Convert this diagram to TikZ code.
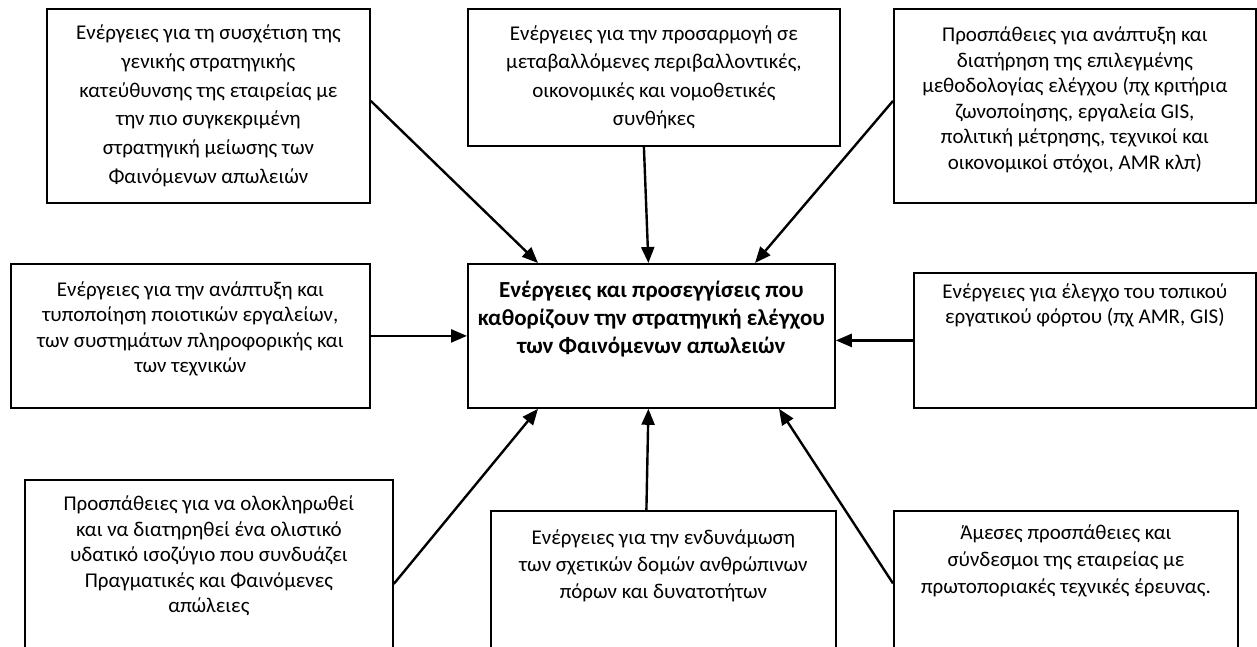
\documentclass[tikz,border=0pt]{standalone}
\usepackage{fontspec}
\setmainfont{Carlito}
\usetikzlibrary{positioning,calc,arrows.meta}
\tikzset{ARROW/.style={line width=2.4pt, -{Triangle[length=16pt,width=13pt]}}}
\tikzset{BOX/.style={rectangle, draw, line width=1.8pt, align=center, anchor=north west, inner sep=0pt, font=\fontsize{21}{25.5}\selectfont}}

\begin{document}
\begin{tikzpicture}[x=1pt,y=-1pt]
    \useasboundingbox (0,0) rectangle (1257,646);

    \node[BOX, minimum width=323, minimum height=194, font=\fontsize{21}{28.7}\selectfont] (n_strategy) at (46,8) {
        Ενέργειες για τη συσχέτιση της \\ γενικής στρατηγικής \\
        κατεύθυνσης της εταιρείας με \\ την πιο συγκεκριμένη \\
        στρατηγική μείωσης των \\ Φαινόμενων απωλειών
    };
    \node[BOX, minimum width=372, minimum height=137, font=\fontsize{21}{28.5}\selectfont] (n_adapt) at (467,8) {
        Ενέργειες για την προσαρμογή σε \\ μεταβαλλόμενες περιβαλλοντικές, \\
        οικονομικές και νομοθετικές \\ συνθήκες
    };
    \node[BOX, minimum width=362, minimum height=194] (n_method) at (893,8) {
        Προσπάθειες για ανάπτυξη και \\ διατήρηση της επιλεγμένης \\
        μεθοδολογίας ελέγχου (πχ κριτήρια \\ ζωνοποίησης, εργαλεία GIS, \\
        πολιτική μέτρησης, τεχνικοί και \\ οικονομικοί στόχοι, AMR κλπ) \\[-10pt]
    };

    \node[BOX, minimum width=359, minimum height=144] (n_tools) at (10,263) {
        Ενέργειες για την ανάπτυξη και \\ τυποποίηση ποιοτικών εργαλείων, \\
        των συστημάτων πληροφορικής και \\ των τεχνικών \\[-8pt]
    };
    \node[BOX, minimum width=367, minimum height=144, font=\fontsize{23}{28}\selectfont\bfseries] (n_centre) at (467,263) {
        Ενέργειες και προσεγγίσεις που \\ καθορίζουν την στρατηγική ελέγχου \\
        των Φαινόμενων απωλειών \\[10pt]
    };
    \node[BOX, minimum width=342, minimum height=135] (n_workload) at (913,272) {
        Ενέργειες για έλεγχο του τοπικού \\ εργατικού φόρτου (πχ AMR, GIS) \\[48pt]
    };

    \node[BOX, minimum width=368, minimum height=168] (n_balance) at (24,479) {
        Προσπάθειες για να ολοκληρωθεί \\ και να διατηρηθεί ένα ολιστικό \\
        υδατικό ισοζύγιο που συνδυάζει \\ Πραγματικές και Φαινόμενες \\
        απώλειες \\[-6pt]
    };
    \node[BOX, minimum width=345, minimum height=137, font=\fontsize{21}{27}\selectfont] (n_people) at (490,510) {
        Ενέργειες για την ενδυνάμωση \\ των σχετικών δομών ανθρώπινων \\
        πόρων και δυνατοτήτων \\[4pt]
    };
    \node[BOX, minimum width=344, minimum height=137, font=\fontsize{21}{27}\selectfont] (n_research) at (893,510) {
        Άμεσες προσπάθειες και \\ σύνδεσμοι της εταιρείας με \\
        πρωτοποριακές τεχνικές έρευνας. \\[14pt]
    };

    % arrows into the centre box
    \draw[ARROW] ($(n_strategy.east)+(0,-5)$) -- ($(n_centre.north west)+(71,0)$);
    \draw[ARROW] ($(n_adapt.south)+(-10,0)$) -- ($(n_centre.north)+(-3,0)$);
    \draw[ARROW] ($(n_method.west)+(0,-5)$) -- ($(n_centre.north west)+(288,0)$);
    \draw[ARROW] (n_tools.east) -- (n_centre.west);
    \draw[ARROW] (n_workload.west) -- (n_workload.west -| n_centre.east);
    \draw[ARROW] ($(n_balance.east)+(0,20)$) -- ($(n_centre.south west)+(71,0)$);
    \draw[ARROW] ($(n_people.north)+(-17,0)$) -- ($(n_centre.south)+(-3,0)$);
    \draw[ARROW] ($(n_research.west)+(0,4)$) -- ($(n_centre.south west)+(312,0)$);

\end{tikzpicture}
\end{document}
